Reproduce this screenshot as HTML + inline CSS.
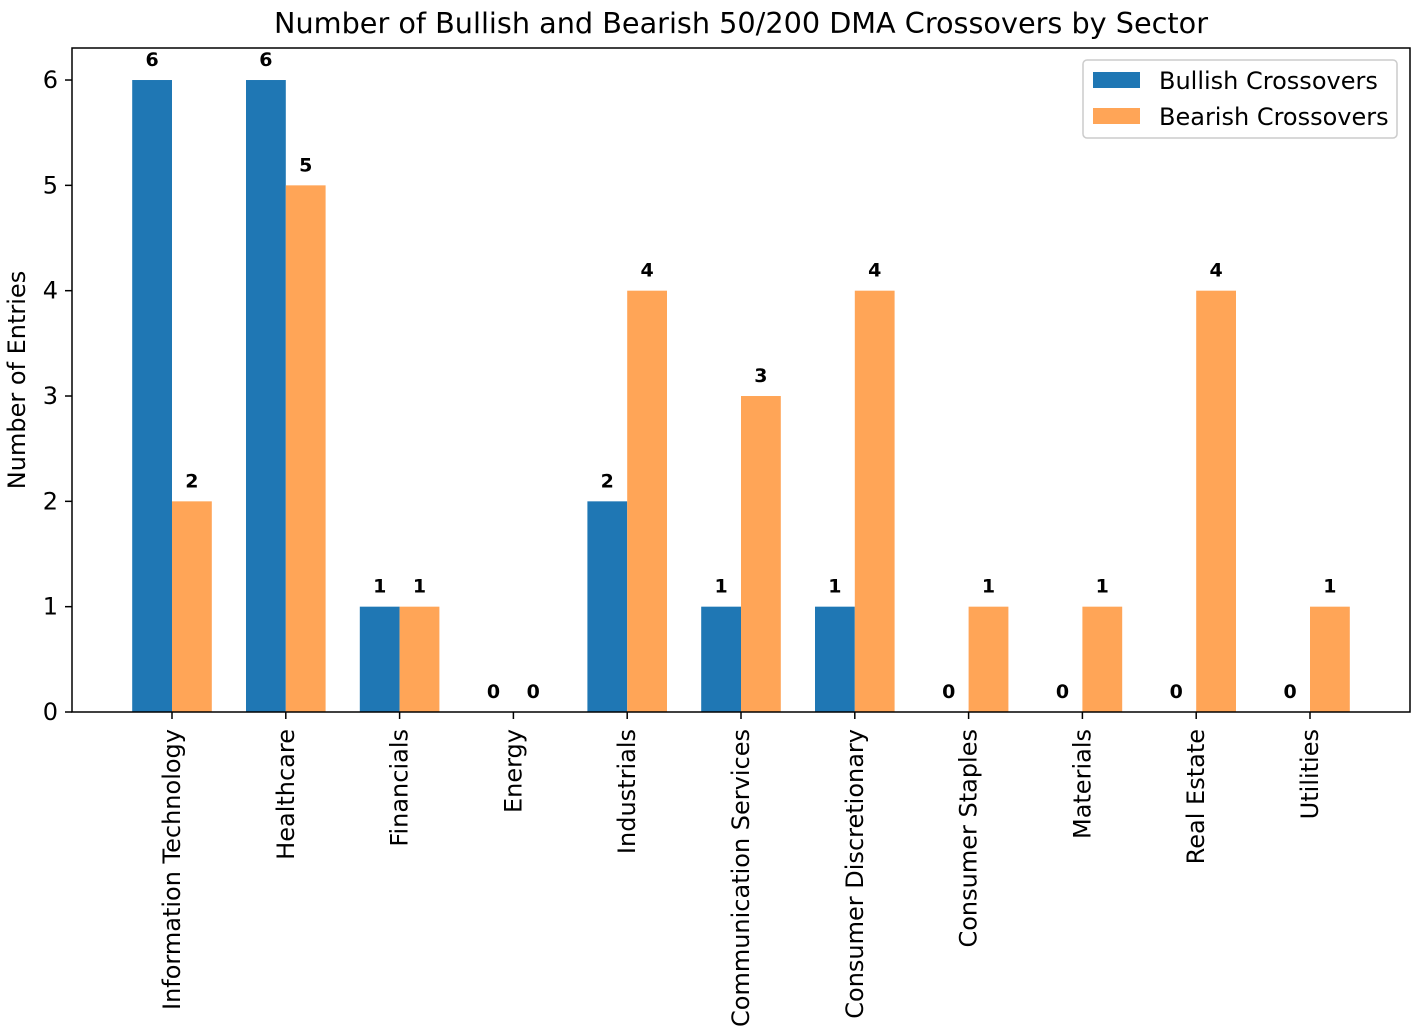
<!DOCTYPE html>
<html><head><meta charset="utf-8"><style>
body{margin:0;background:#fff;}
svg text{font-family:"DejaVu Sans","Liberation Sans",sans-serif;fill:#000;}
</style></head><body>
<svg id="chart" width="1416" height="1030" xmlns="http://www.w3.org/2000/svg">
<text x="741" y="33" font-size="28.7" text-anchor="middle">Number of Bullish and Bearish 50/200 DMA Crossovers by Sector</text>
<text transform="translate(25,380) rotate(-90)" font-size="24" text-anchor="middle">Number of Entries</text>
<g id="bars"></g><g id="yticks"></g><g id="xticks"></g>
<rect x="72" y="48" width="1338" height="664" fill="none" stroke="#000" stroke-width="1.5"/>
<g>
<rect x="1083" y="60" width="314" height="78" rx="4" fill="#fff" stroke="#ccc" stroke-width="1.5"/>
<rect x="1093" y="72" width="47" height="16" fill="#1f77b4"/>
<text x="1159" y="89" font-size="24">Bullish Crossovers</text>
<rect x="1093" y="108" width="47" height="16" fill="#ffa557"/>
<text x="1159" y="125" font-size="24">Bearish Crossovers</text>
</g>
</svg>
<script>
const categories=["Information Technology","Healthcare","Financials","Energy","Industrials","Communication Services","Consumer Discretionary","Consumer Staples","Materials","Real Estate","Utilities"];
const bullish=[6,6,1,0,2,1,1,0,0,0,0];
const bearish=[2,5,1,0,4,3,4,1,1,4,1];
const yTicks=[0,1,2,3,4,5,6];
const NS="http://www.w3.org/2000/svg";
const y=v=>712-v*105.33;
const x=i=>172+i*113.8;
const bw=39.8;
function mk(tag,attrs,parent){const e=document.createElementNS(NS,tag);for(const k in attrs)e.setAttribute(k,attrs[k]);parent.appendChild(e);return e;}
const bars=document.getElementById('bars'),yt=document.getElementById('yticks'),xt=document.getElementById('xticks');
categories.forEach((c,i)=>{
  [[bullish[i],x(i)-bw,'#1f77b4','bullish'],[bearish[i],x(i),'#ffa557','bearish']].forEach(([v,bx,col,nm])=>{
    const r=mk('rect',{x:bx,y:y(v),width:bw,height:712-y(v),fill:col},bars);
    
    
    const t=mk('text',{x:bx+bw/2,y:y(v)-14,'font-size':'19','font-weight':'bold','text-anchor':'middle'},bars);
    t.textContent=v;
    
    
  });
  const tk=mk('line',{x1:x(i),x2:x(i),y1:712,y2:719,stroke:'#000','stroke-width':1.5},xt);
  
  
  const lb=mk('text',{transform:`translate(${x(i)+8},729) rotate(-90)`,'font-size':'24','text-anchor':'end'},xt);
  lb.textContent=c;
  
  
});
yTicks.forEach(v=>{
  const tk=mk('line',{x1:65,x2:72,y1:y(v),y2:y(v),stroke:'#000','stroke-width':1.5},yt);
  
  
  const lb=mk('text',{x:58,y:y(v)+8,'font-size':'24','text-anchor':'end'},yt);
  lb.textContent=v;
  
  
});
</script>
</body></html>
